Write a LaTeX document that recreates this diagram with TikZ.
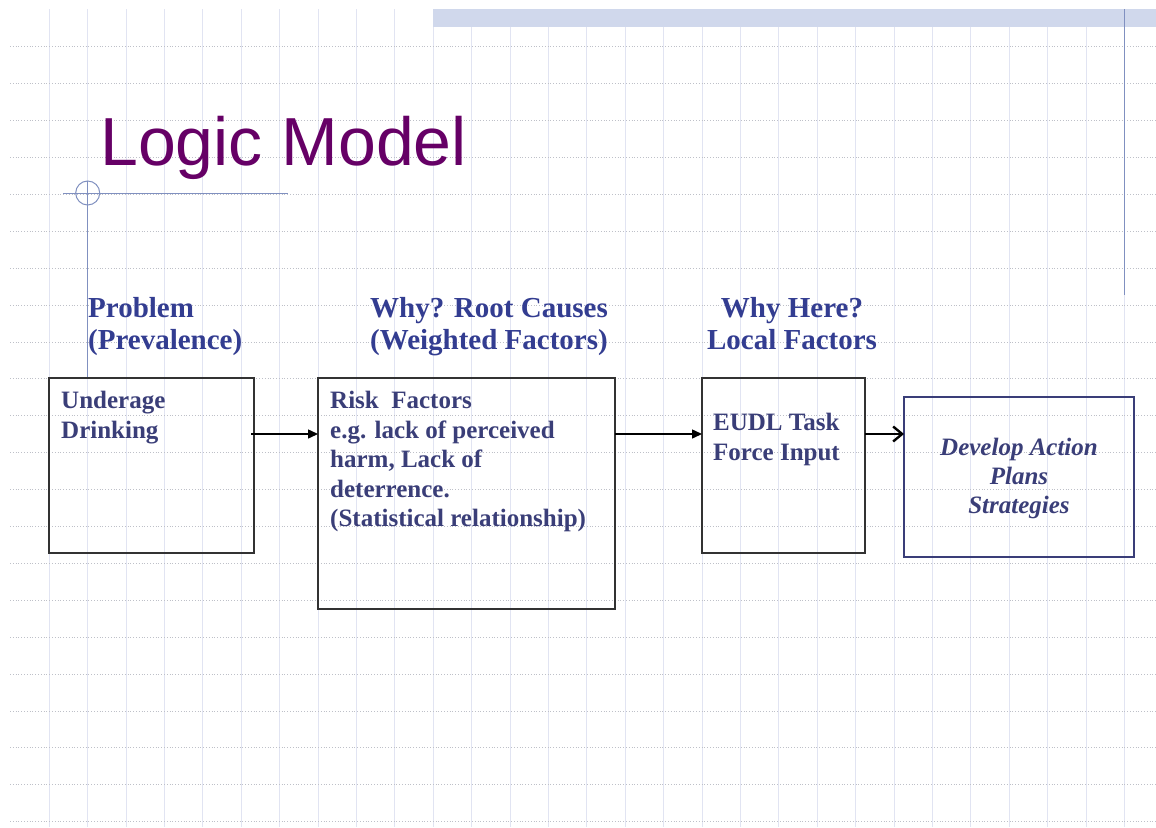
\documentclass[tikz,border=0pt]{standalone}
\usepackage{fontspec}
\setmainfont{Liberation Serif}
\newfontfamily\lmTitleFont{Liberation Sans}
\usepackage{xcolor}
\usetikzlibrary{arrows.meta, positioning}
\definecolor{lmPurple}{RGB}{102,0,102}
\definecolor{lmNavy}{RGB}{51,61,145}
\definecolor{lmInk}{RGB}{58,62,120}
\definecolor{lmFrame}{RGB}{50,50,50}
\definecolor{lmGridV}{RGB}{225,228,242}
\definecolor{lmGridH}{RGB}{190,192,200}
\definecolor{lmRule}{RGB}{128,144,192}
\definecolor{lmStripe}{RGB}{208,216,236}
\tikzstyle{lmBox} = [rectangle, draw=lmFrame, line width=1.8pt, anchor=north west, inner sep=0pt, outer sep=0pt]
\tikzstyle{lmHead} = [font=\fontsize{29}{32}\selectfont\bfseries, text=lmNavy, inner sep=0pt]
\tikzstyle{lmText} = [font=\fontsize{25}{29.5}\selectfont\bfseries, text=lmInk, inner sep=0pt, align=left, anchor=north west]
\tikzstyle{lmArrow} = [line width=1.5pt, -{Triangle[length=10pt,width=9pt]}]
\tikzstyle{lmBigArrow} = [line width=2.4pt, -{Straight Barb[length=9pt,width=15pt]}]

\begin{document}
\begin{tikzpicture}[x=1pt, y=-1pt]
    \useasboundingbox (0,0) rectangle (1156,827);
    \fill [white] (0,0) rectangle (1156,827);
    \foreach \i in {0,...,28}
        \draw [lmGridV, line width=1pt] ({49.3+38.4*\i},9) -- ({49.3+38.4*\i},827);
    \foreach \j in {0,...,21}
        \draw [lmGridH, dotted, line width=0.8pt] (10,{46.7+36.9*\j}) -- (1156,{46.7+36.9*\j});
    \fill [lmStripe] (433,9) rectangle (1156,27);
    \draw [lmRule, line width=1.2pt] (1124.5,9) -- (1124.5,295);
    \draw [lmRule, line width=1pt] (63,193) -- (288,193);
    \draw [lmRule, line width=1pt] (87.7,193) circle [radius=12pt];
    \draw [lmRule, line width=1pt] (87.7,181) -- (87.7,378);

    \node (title) [anchor=base west, inner sep=0pt, text=lmPurple, font=\lmTitleFont\fontsize{68}{80}\selectfont] at (100,165) {Logic Model};

    \node (underage) [lmBox, minimum width=205pt, minimum height=175pt] at (49,378) {};
    \node (risk) [lmBox, minimum width=297pt, minimum height=231pt] at (318,378) {};
    \node (eudl) [lmBox, minimum width=163pt, minimum height=175pt] at (702,378) {};
    \node (develop) [lmBox, draw=lmInk, line width=1.4pt, minimum width=230pt, minimum height=160pt] at (904,397) {};

    \node (problemhead) [lmHead, align=left, anchor=north west] at (88,297) {Problem\\(Prevalence)};
    \node (causeshead) [lmHead, align=left, anchor=north west] at (370,297) {Why? Root Causes\\(Weighted Factors)};
    \node (localhead) [lmHead, align=center, anchor=north] at (792,297) {Why Here?\\Local Factors};

    \node (underagetext) [lmText, below right=13pt and 12pt of underage.north west, anchor=north west] {Underage\\Drinking};
    \node (risktext) [lmText, below right=13pt and 12pt of risk.north west, anchor=north west] {Risk~~Factors\\e.g. lack of perceived\\harm, Lack of\\deterrence.\\(Statistical relationship)};
    \node (eudltext) [lmText, below right=35pt and 11pt of eudl.north west, anchor=north west] {EUDL Task\\Force Input};
    \node (developtext) [lmText, below=41pt of develop.north, anchor=north, align=center, font=\fontsize{25}{29}\selectfont\bfseries\itshape] {Develop Action\\Plans\\Strategies};

    \coordinate (lnk) at (0,434);
    \draw [lmArrow] ([xshift=-3pt]underage.east |- lnk) -- (risk.west |- lnk);
    \draw [lmArrow] (risk.east |- lnk) -- (eudl.west |- lnk);
    \draw [lmBigArrow] (eudl.east |- lnk) -- (develop.west |- lnk);
\end{tikzpicture}
\end{document}
